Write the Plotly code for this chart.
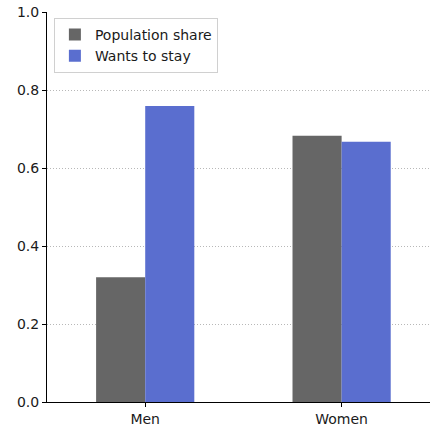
import plotly.graph_objects as go

categories = ["Men", "Women"]
population_share = [0.32, 0.683]
wants_to_stay = [0.759, 0.667]
series_names = ["Population share", "Wants to stay"]
y_ticks = [0.0, 0.2, 0.4, 0.6, 0.8, 1.0]

xpos = list(range(len(categories)))

fig = go.Figure()
fig.add_trace(go.Bar(
    x=xpos, y=population_share, name=series_names[0],
    width=0.25, offset=-0.25, marker=dict(color="#666666", line=dict(width=0)),
))
fig.add_trace(go.Bar(
    x=xpos, y=wants_to_stay, name=series_names[1],
    width=0.25, offset=0, marker=dict(color="#5a6ecf", line=dict(width=0)),
))

fig.update_layout(
    width=430, height=426,
    margin=dict(l=47, r=0, t=12, b=24),
    plot_bgcolor="white", paper_bgcolor="white",
    font=dict(family="DejaVu Sans", size=14, color="#1a1a1a"),
    showlegend=True,
    legend=dict(
        x=0.018, y=0.985, xanchor="left", yanchor="top",
        bgcolor="rgba(255,255,255,0.8)", bordercolor="#d0d0d0", borderwidth=1,
        font=dict(size=14), tracegroupgap=0, itemwidth=30,
    ),
    xaxis=dict(
        range=[-0.5, 1.45], tickmode="array", tickvals=xpos, ticktext=categories,
        showgrid=False, zeroline=False, showline=True, linecolor="black", linewidth=1,
        ticks="outside", ticklen=4, tickcolor="black",
    ),
    yaxis=dict(
        range=[0, 1.0], tickmode="array", tickvals=y_ticks, tickformat=".1f",
        showgrid=True, gridcolor="#b8b8b8", griddash="1px,2px", gridwidth=1,
        zeroline=False, showline=True, linecolor="black", linewidth=1, mirror=True,
        ticks="outside", ticklen=4, tickcolor="black",
    ),
)

fig.write_html("out.html", config={"displayModeBar": False},
               post_script="document.body.style.margin='0';")
